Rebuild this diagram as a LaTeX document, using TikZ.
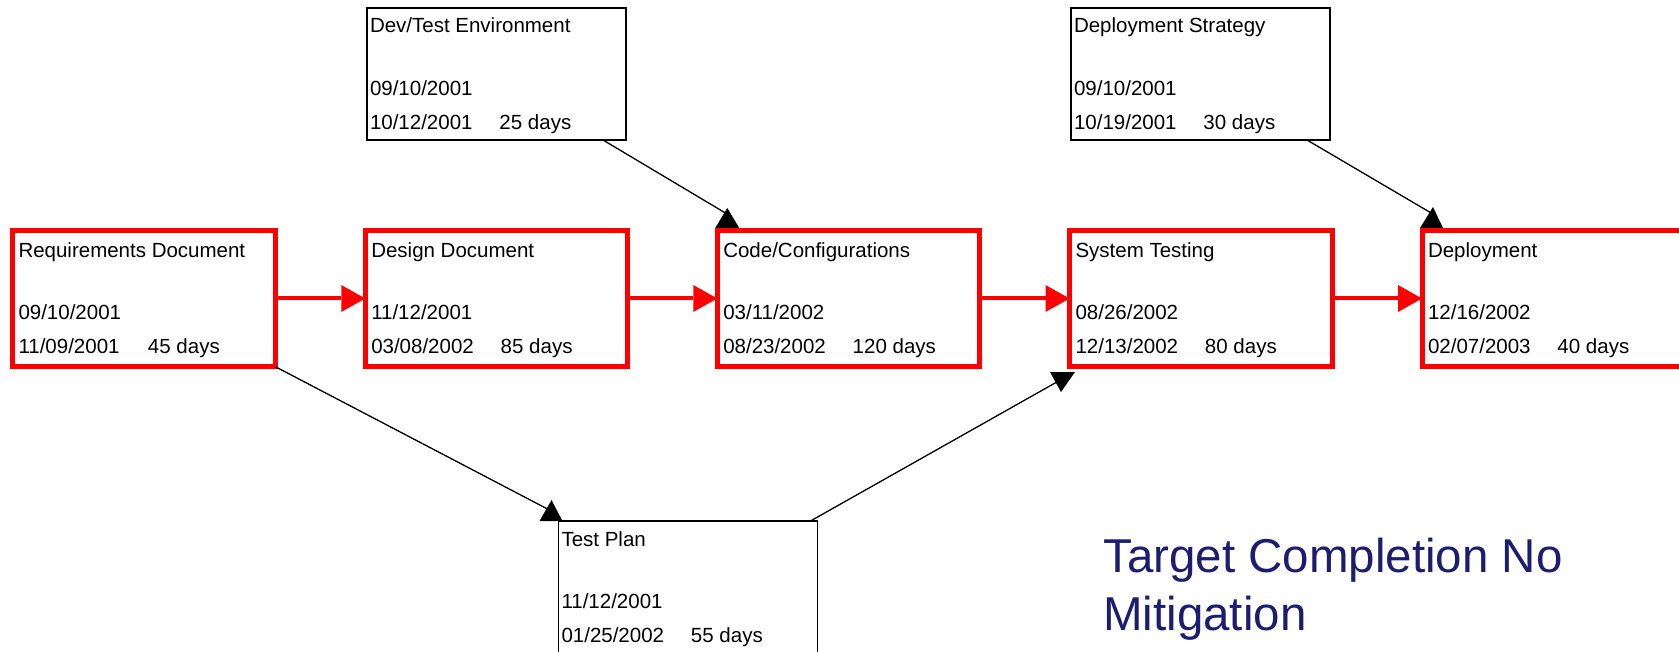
\documentclass[tikz,border=0pt]{standalone}
\usepackage{fontspec}
\setmainfont{Liberation Sans}
\usetikzlibrary{arrows.meta}
\definecolor{navy}{RGB}{28,28,112}
\tikzset{
  crit/.style={rectangle, draw=red, line width=5pt, minimum width=262.5pt, minimum height=136pt, inner sep=0pt, outer sep=0pt},
  side/.style={rectangle, draw=black, line width=1.6pt, minimum width=259pt, minimum height=132pt, inner sep=0pt, outer sep=0pt},
  tasktext/.style={anchor=base west, inner sep=0pt, outer sep=0pt, font=\fontsize{20.5}{24}\selectfont, text=black},
  critarrow/.style={draw=red, line width=4pt, -{Triangle[length=24pt,width=27pt,line width=0pt]}},
  link/.style={draw=black, line width=1.3pt},
  tiphead/.style={fill=black}
}
\newcommand\taskbox[8]{%
  \node[#2] (#1) at (#3) {};
  \node[tasktext] (#1-t) at ([shift={#4}]#1.north west) {#5};
  \node[tasktext] (#1-s) at ([yshift=-62.5pt]#1-t.base west) {#6};
  \node[tasktext] (#1-e) at ([yshift=-96.5pt]#1-t.base west) {\makebox[129.5pt][l]{#7}#8};
}
\begin{document}
\begin{tikzpicture}[x=1pt,y=-1pt]
\useasboundingbox (0,0) rectangle (1679,652);
% critical path
\taskbox{req}{crit}{143.75,298.5}{(6,27)}{Requirements Document}{09/10/2001}{11/09/2001}{45 days}
\taskbox{des}{crit}{496.5,298.5}{(6,27)}{Design Document}{11/12/2001}{03/08/2002}{85 days}
\taskbox{code}{crit}{848.5,298.5}{(6,27)}{Code/Configurations}{03/11/2002}{08/23/2002}{120 days}
\taskbox{sys}{crit}{1200.75,298.5}{(6,27)}{System Testing}{08/26/2002}{12/13/2002}{80 days}
\taskbox{dep}{crit}{1553.25,298.5}{(6,27)}{Deployment}{12/16/2002}{02/07/2003}{40 days}
% side tasks
\taskbox{dev}{side}{496.5,74}{(3,25)}{Dev/Test Environment}{09/10/2001}{10/12/2001}{25 days}
\taskbox{strat}{side}{1200.5,74}{(3,25)}{Deployment Strategy}{09/10/2001}{10/19/2001}{30 days}
\taskbox{test}{side}{688,587}{(3,25)}{Test Plan}{11/12/2001}{01/25/2002}{55 days}
% critical arrows
\draw[critarrow] (req.east) -- (des.west);
\draw[critarrow] (des.east) -- (code.west);
\draw[critarrow] (code.east) -- (sys.west);
\draw[critarrow] (sys.east) -- (dep.west);
% black connectors
\coordinate (codeTip) at ([shift={(9,-17)}]code.north west);
\coordinate (depTip) at ([shift={(10,-17)}]dep.north west);
\coordinate (testTip) at ([shift={(-11,-12)}]test.north west);
\coordinate (sysTip) at ([shift={(-10,14)}]sys.south west);
\coordinate (devOut) at ([xshift=-23pt]dev.south east);
\coordinate (stratOut) at ([xshift=-23pt]strat.south east);
\coordinate (testOut) at ([xshift=-7pt]test.north east);
\draw[link] (devOut) -- (codeTip);
\draw[link] (stratOut) -- (depTip);
\draw[link] (req.south east) -- (testTip);
\draw[link] (testOut) -- (sysTip);
\fill[tiphead] ([shift={(-2,-2.5)}]code.north west) -- ([shift={(22,-2.5)}]code.north west) -- ([shift={(10,-22.5)}]code.north west) -- cycle;
\fill[tiphead] ([shift={(-2,-2.5)}]dep.north west) -- ([shift={(21,-2.5)}]dep.north west) -- ([shift={(11,-23.5)}]dep.north west) -- cycle;
\fill[tiphead] ([shift={(-19,0)}]test.north west) -- ([shift={(4,0)}]test.north west) -- ([shift={(-7,-21)}]test.north west) -- cycle;
\fill[tiphead] ([shift={(-19.5,5.5)}]sys.south west) -- ([shift={(5.5,5.5)}]sys.south west) -- ([shift={(-8.5,25.5)}]sys.south west) -- cycle;
% caption (base anchor = baseline of last line)
\node[anchor=base west, inner sep=0pt, align=left, text=navy, font=\fontsize{47.5}{57.7}\selectfont] (cap) at (1103,630.5) {Target Completion No\\Mitigation};
\end{tikzpicture}
\end{document}
